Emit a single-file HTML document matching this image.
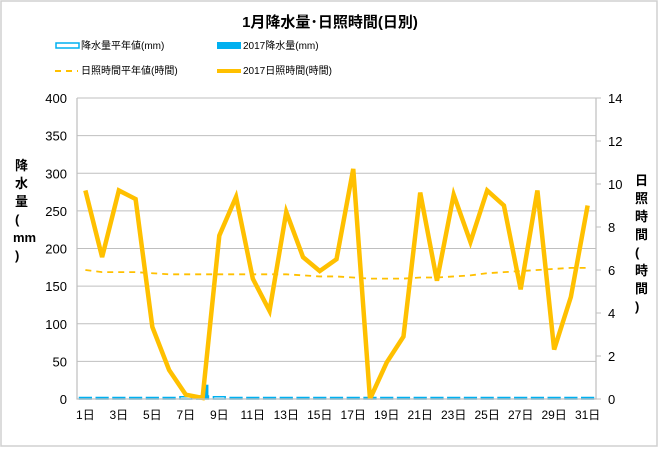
<!DOCTYPE html>
<html><head><meta charset="utf-8"><style>
body{margin:0;background:#fff;font-family:"Liberation Sans","Noto Sans CJK JP",sans-serif;}
#wrap{position:relative;width:660px;height:448px;}
</style></head><body>
<div id="wrap">
<svg id="c" width="660" height="448" xmlns="http://www.w3.org/2000/svg">
<rect x="1" y="1" width="656" height="445" fill="#fff" stroke="#d0d0d0" stroke-width="1.5"/>
<text x="330" y="27" text-anchor="middle" font-size="15" font-weight="bold" font-family="Liberation Sans,Noto Sans CJK JP,sans-serif">1月降水量･日照時間(日別)</text>
<g font-size="10" font-family="Liberation Sans,Noto Sans CJK JP,sans-serif">
<g><rect x="56" y="43" width="23" height="5" fill="#fff" stroke="#00b0f0" stroke-width="1.5"/><text x="81" y="49">降水量平年値(mm)</text></g>
<g><rect x="217" y="42" width="24" height="7" fill="#00b0f0"/><text x="243" y="49">2017降水量(mm)</text></g>
<g><line x1="55" y1="71" x2="78" y2="71" stroke="#ffc000" stroke-width="2" stroke-dasharray="6,5"/><text x="81" y="74">日照時間平年値(時間)</text></g>
<g><line x1="217" y1="71" x2="241" y2="71" stroke="#ffc000" stroke-width="4"/><text x="243" y="74">2017日照時間(時間)</text></g>
</g>
<text x="22" y="150" font-size="13" font-weight="bold"><tspan x="15" y="170">降</tspan><tspan x="15" y="188">水</tspan><tspan x="15" y="206">量</tspan><tspan x="15" y="224">(</tspan><tspan x="13" y="242">mm</tspan><tspan x="15" y="260">)</tspan></text>
<text font-size="13" font-weight="bold"><tspan x="635" y="185">日</tspan><tspan x="635" y="203">照</tspan><tspan x="635" y="221">時</tspan><tspan x="635" y="239">間</tspan><tspan x="635" y="257">(</tspan><tspan x="635" y="275">時</tspan><tspan x="635" y="293">間</tspan><tspan x="635" y="311">)</tspan></text>
<g id="grid"></g><g id="bars"></g><g id="lines"></g><g id="axes"></g>
</svg>
</div>
<script>
const days=[1,2,3,4,5,6,7,8,9,10,11,12,13,14,15,16,17,18,19,20,21,22,23,24,25,26,27,28,29,30,31];
const precipNormal=[2,2,2,2,2,2,3,4,3,2,2,2,2,2,2,2,2,2,2,2,2,2,2,2,2,2,2,2,2,2,2];
const precip2017=[1,0,0,0,0,0,0,19,0,0,0,0,0,0,0,0,0,0,2,0,0,0,0,0,0,0,0,0,0,0,0];
const sunNormal=[6.0,5.9,5.9,5.9,5.85,5.8,5.8,5.8,5.8,5.8,5.8,5.8,5.8,5.75,5.7,5.7,5.65,5.6,5.6,5.6,5.65,5.65,5.7,5.75,5.85,5.9,5.95,6.0,6.05,6.1,6.1];
const sun2017=[9.7,6.6,9.7,9.3,3.35,1.35,0.2,0.05,7.6,9.4,5.6,4.1,8.7,6.6,5.95,6.5,10.7,0,1.7,2.9,9.6,5.5,9.5,7.3,9.7,9.0,5.1,9.7,2.3,4.75,9.0];
const leftTicks=[0,50,100,150,200,250,300,350,400];
const rightTicks=[0,2,4,6,8,10,12,14];
const NS="http://www.w3.org/2000/svg";
const X0=77,X1=596,Y0=399,Y1=98;
const bw=(X1-X0)/days.length;
const xc=i=>X0+bw*(i+0.5);
const yL=v=>Y0-(v/400)*(Y0-Y1);
const yR=v=>Y0-(v/14)*(Y0-Y1);
function mk(t,a,p){const e=document.createElementNS(NS,t);for(const k in a)e.setAttribute(k,a[k]);p.appendChild(e);return e;}
const grid=document.getElementById('grid'),bars=document.getElementById('bars'),lines=document.getElementById('lines'),axes=document.getElementById('axes');
leftTicks.forEach(v=>{
 const l=mk('line',{x1:X0,x2:X1,y1:yL(v),y2:yL(v),stroke:'#bfbfbf','stroke-width':1},grid);
 
 
 const t=mk('text',{x:X0-10,y:yL(v)+5,'text-anchor':'end','font-size':13},axes);t.textContent=v;
 
 
});
rightTicks.forEach(v=>{
 const k=mk('line',{x1:X1,x2:X1+5,y1:yR(v),y2:yR(v),stroke:'#bfbfbf'},axes);
 
 
 const t=mk('text',{x:X1+12,y:yR(v)+5,'font-size':13},axes);t.textContent=v;
 
 
});
const ax=mk('path',{d:`M${X0},${Y1}V${Y0}H${X1}V${Y1}`,fill:'none',stroke:'#bfbfbf','stroke-width':1.2},axes);


days.forEach((d,i)=>{
 if(i%2===0){const t=mk('text',{x:xc(i),y:Y0+20,'text-anchor':'middle','font-size':12},axes);t.textContent=d+'日';
 
 }
 const hn=Math.max(Y0-yL(precipNormal[i]),1);
 const r=mk('rect',{x:xc(i)-bw*0.35,y:Y0-hn,width:bw*0.7,height:hn,fill:'#fff',stroke:'#00b0f0','stroke-width':1.5},bars);
 
 
 if(precip2017[i]>0){const h=Y0-yL(precip2017[i]);
 const b=mk('rect',{x:xc(i)+bw*0.05,y:Y0-h,width:bw*0.3,height:h,fill:'#00b0f0'},bars);
 
 }
});
const pn=mk('polyline',{points:sunNormal.map((v,i)=>xc(i)+','+yR(v)).join(' '),fill:'none',stroke:'#ffc000','stroke-width':1.8,'stroke-dasharray':'6,5'},lines);


const ps=mk('polyline',{points:sun2017.map((v,i)=>xc(i)+','+yR(v)).join(' '),fill:'none',stroke:'#ffc000','stroke-width':4.5,'stroke-linejoin':'miter'},lines);


</script>
</body></html>
